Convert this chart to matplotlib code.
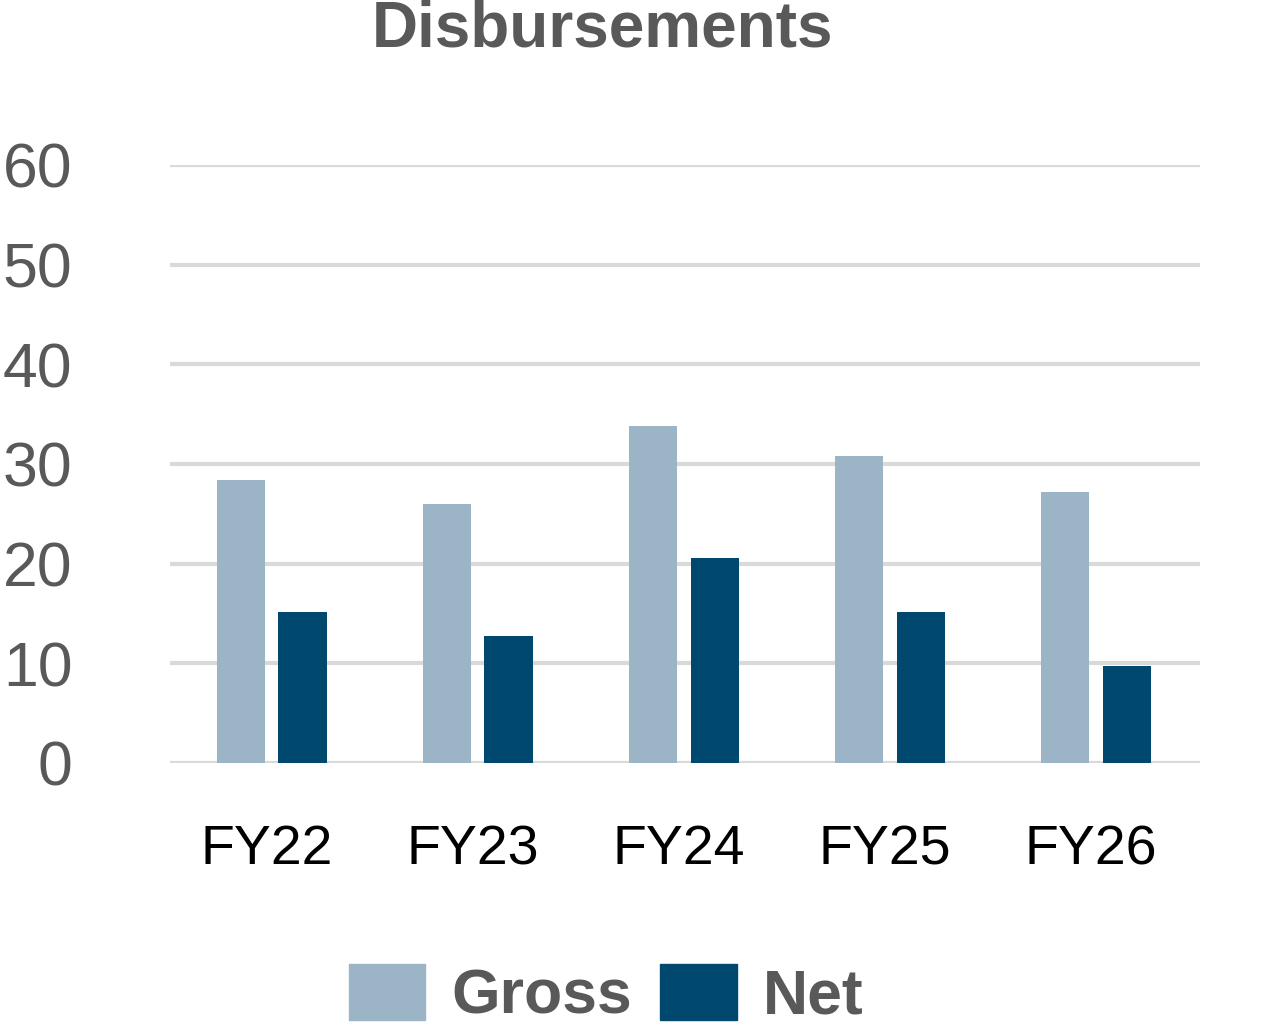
import numpy as np
import matplotlib.pyplot as plt
import matplotlib.transforms as mtransforms
from matplotlib.patches import Patch

plt.rcParams['font.family'] = ['Liberation Sans', 'DejaVu Sans']

# Data
years = ['FY22', 'FY23', 'FY24', 'FY25', 'FY26']
gross = [28.4, 26.0, 33.8, 30.8, 27.2]
net = [15.1, 12.7, 20.6, 15.1, 9.7]

gross_color = '#9bb5c7'
net_color = '#00486e'
text_grey = '#595959'

fig = plt.figure(figsize=(12.66, 10.32), dpi=100)
ax = fig.add_axes([0.134, 0.2607, 0.814, 0.5795])

x = np.arange(len(years))
w = 0.235
ax.bar(x - 0.155, gross, w, color=gross_color, zorder=3)
ax.bar(x + 0.145, net, w, color=net_color, zorder=3)

ax.set_xlim(-0.5, len(years) - 0.5)
ax.set_ylim(0, 60)
ax.set_yticks(range(0, 61, 10))
ax.set_xticks(x)
ax.set_xticklabels(years)
ax.yaxis.grid(True, color='#d9d9d9', linewidth=3, zorder=0)
ax.set_axisbelow(True)
for s in ax.spines.values():
    s.set_visible(False)
ax.tick_params(axis='y', length=0, pad=70, labelsize=45, labelcolor=text_grey)
ax.tick_params(axis='x', length=0, pad=44, labelsize=40, labelcolor='black')

# nudge category labels slightly left, as in the reference
shift = mtransforms.ScaledTranslation(-6 / 100, 0, fig.dpi_scale_trans)
for lbl in ax.get_xticklabels():
    lbl.set_transform(lbl.get_transform() + shift)

fig.text(0.476, 0.971, 'Disbursements', ha='center', va='center',
         fontsize=46, fontweight='bold', color=text_grey)

handles = [Patch(color=gross_color), Patch(color=net_color)]
leg = fig.legend(handles, ['Gross', 'Net'], loc='center', bbox_to_anchor=(0.479, 0.036),
                 ncol=2, frameon=False, handlelength=1.22, handleheight=1.0,
                 handletextpad=0.42, columnspacing=0.45,
                 prop={'size': 45, 'weight': 'bold'})
for t in leg.get_texts():
    t.set_color(text_grey)

fig.savefig('out.png', dpi=100)
